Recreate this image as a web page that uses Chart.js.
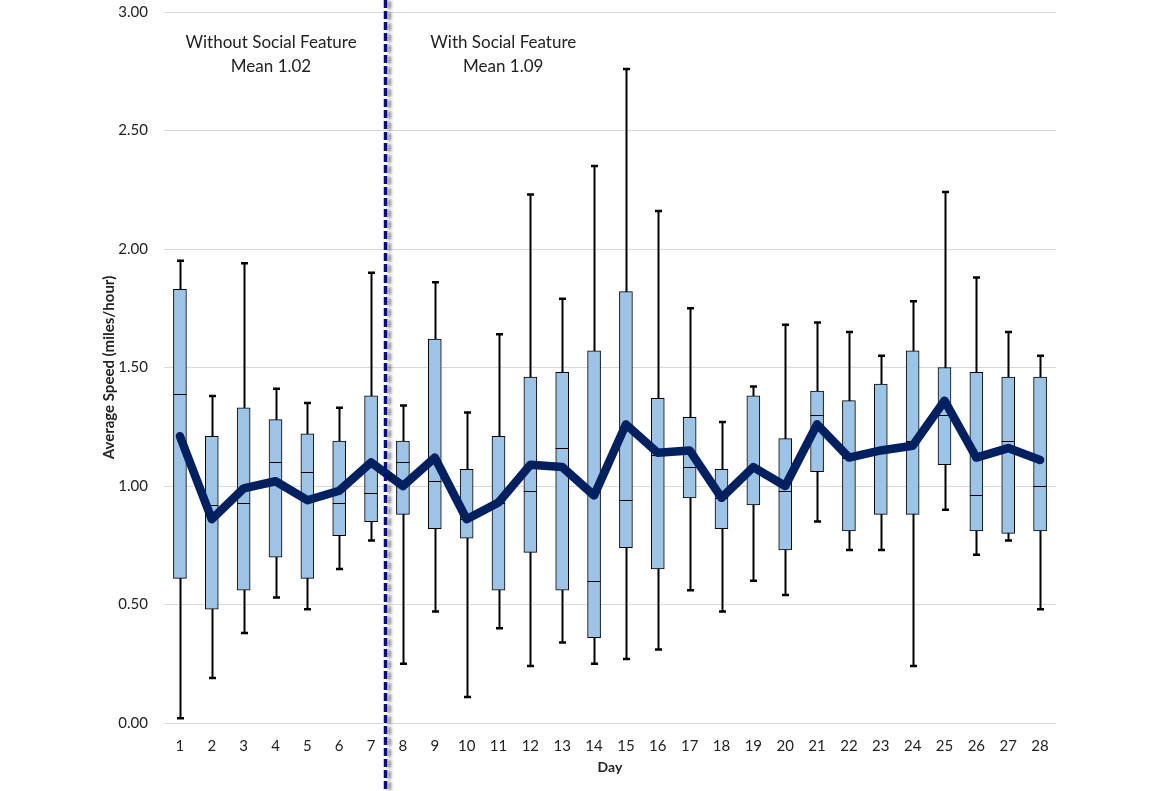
<!DOCTYPE html>
<html>
<head>
<meta charset="utf-8">
<script src="https://cdn.jsdelivr.net/npm/chart.js@4.4.1/dist/chart.umd.min.js"></script>
<style>
  body { margin: 0; background: #fff; }
  #wrap { width: 1150px; height: 791px; position: relative; }
</style>
</head>
<body>
<div id="wrap"><canvas id="chart"></canvas></div>
<script>
// days on the x axis
let days = ["1","2","3","4","5","6","7","8","9","10","11","12","13","14","15","16","17","18","19","20","21","22","23","24","25","26","27","28"];

// box plot values per day (miles/hour)
let minVals = [0.02, 0.19, 0.38, 0.53, 0.48, 0.65, 0.77, 0.25, 0.47, 0.11, 0.40, 0.24, 0.34, 0.25, 0.27, 0.31, 0.56, 0.47, 0.60, 0.54, 0.85, 0.73, 0.73, 0.24, 0.90, 0.71, 0.77, 0.48];
let q1Vals  = [0.61, 0.48, 0.56, 0.70, 0.61, 0.79, 0.85, 0.88, 0.82, 0.78, 0.56, 0.72, 0.56, 0.36, 0.74, 0.65, 0.95, 0.82, 0.92, 0.73, 1.06, 0.81, 0.88, 0.88, 1.09, 0.81, 0.80, 0.81];
let medVals = [1.39, 0.92, 0.93, 1.10, 1.06, 0.93, 0.97, 1.10, 1.02, 0.86, 0.93, 0.98, 1.16, 0.60, 0.94, 1.13, 1.08, 0.95, 1.07, 0.98, 1.30, 1.12, 1.14, 1.19, 1.30, 0.96, 1.19, 1.00];
let q3Vals  = [1.83, 1.21, 1.33, 1.28, 1.22, 1.19, 1.38, 1.19, 1.62, 1.07, 1.21, 1.46, 1.48, 1.57, 1.82, 1.37, 1.29, 1.07, 1.38, 1.20, 1.40, 1.36, 1.43, 1.57, 1.50, 1.48, 1.46, 1.46];
let maxVals = [1.95, 1.38, 1.94, 1.41, 1.35, 1.33, 1.90, 1.34, 1.86, 1.31, 1.64, 2.23, 1.79, 2.35, 2.76, 2.16, 1.75, 1.27, 1.42, 1.68, 1.69, 1.65, 1.55, 1.78, 2.24, 1.88, 1.65, 1.55];

// daily mean speed
let meanVals = [1.21, 0.86, 0.99, 1.02, 0.94, 0.98, 1.10, 1.00, 1.12, 0.86, 0.93, 1.09, 1.08, 0.96, 1.26, 1.14, 1.15, 0.95, 1.08, 1.00, 1.26, 1.12, 1.15, 1.17, 1.36, 1.12, 1.16, 1.11];

// y axis ticks
let yTicks = [0, 0.5, 1, 1.5, 2, 2.5, 3];

// notes above each period
let notes = [
  { lines: ["Without Social Feature", "Mean 1.02"], day: 2.86 },
  { lines: ["With Social Feature", "Mean 1.09"], day: 10.15 }
];

let FONT = "Lato, 'Open Sans', sans-serif";

let boxRanges = [];
for (let i = 0; i < days.length; i++) {
  boxRanges.push([q1Vals[i], q3Vals[i]]);
}

// whiskers behind boxes, medians on top of boxes
let boxPlugin = {
  id: "boxParts",
  beforeDatasetsDraw: function (chart) {
    let ctx = chart.ctx;
    let x = chart.scales.x;
    let y = chart.scales.y;
    ctx.save();
    ctx.strokeStyle = "#000";
    for (let i = 0; i < days.length; i++) {
      let px = Math.round(x.getPixelForValue(i)) + 0.5;
      ctx.lineWidth = 2;
      ctx.beginPath();
      ctx.moveTo(px, y.getPixelForValue(maxVals[i]));
      ctx.lineTo(px, y.getPixelForValue(minVals[i]));
      ctx.stroke();
      ctx.lineWidth = 2.5;
      ctx.beginPath();
      ctx.moveTo(px - 3.5, y.getPixelForValue(maxVals[i]));
      ctx.lineTo(px + 3.5, y.getPixelForValue(maxVals[i]));
      ctx.moveTo(px - 3.5, y.getPixelForValue(minVals[i]));
      ctx.lineTo(px + 3.5, y.getPixelForValue(minVals[i]));
      ctx.stroke();
    }
    ctx.restore();
  },
  afterDatasetDraw: function (chart, args) {
    if (args.index !== 0) return;
    let ctx = chart.ctx;
    let x = chart.scales.x;
    let y = chart.scales.y;
    ctx.save();
    ctx.strokeStyle = "#000";
    ctx.lineWidth = 1;
    for (let i = 0; i < days.length; i++) {
      let px = x.getPixelForValue(i);
      let py = Math.round(y.getPixelForValue(medVals[i])) + 0.5;
      ctx.beginPath();
      ctx.moveTo(px - 6.5, py);
      ctx.lineTo(px + 6.5, py);
      ctx.stroke();
    }
    ctx.restore();
  },
  afterDraw: function (chart) {
    let ctx = chart.ctx;
    let x = chart.scales.x;
    let y = chart.scales.y;

    // notes
    ctx.save();
    ctx.fillStyle = "#222";
    ctx.font = "17px " + FONT;
    ctx.textAlign = "center";
    ctx.textBaseline = "middle";
    for (let n = 0; n < notes.length; n++) {
      let nx = x.getPixelForValue(notes[n].day);
      ctx.fillText(notes[n].lines[0], nx, y.getPixelForValue(2.87));
      ctx.fillText(notes[n].lines[1], nx, y.getPixelForValue(2.77));
    }
    ctx.restore();

    // dashed divider between day 7 and day 8
    let dx = (x.getPixelForValue(6) + x.getPixelForValue(7)) / 2 - 1.5;
    ctx.save();
    ctx.strokeStyle = "#0b0b85";
    ctx.lineWidth = 3.5;
    ctx.setLineDash([8, 3]);
    ctx.shadowColor = "rgba(0,0,0,0.45)";
    ctx.shadowOffsetX = 4;
    ctx.shadowOffsetY = 1;
    ctx.shadowBlur = 3;
    ctx.beginPath();
    ctx.moveTo(dx, 0);
    ctx.lineTo(dx, chart.height);
    ctx.stroke();
    ctx.restore();
  }
};

new Chart(document.getElementById("chart"), {
  data: {
    labels: days,
    datasets: [
      {
        type: "bar",
        label: "Box",
        data: boxRanges,
        backgroundColor: "#9dc3e6",
        borderColor: "#000",
        borderWidth: 1,
        borderSkipped: false,
        barThickness: 13,
        order: 2
      },
      {
        type: "line",
        label: "Mean",
        data: meanVals,
        borderColor: "#002060",
        borderWidth: 8.5,
        pointRadius: 0,
        borderJoinStyle: "round",
        borderCapStyle: "round",
        tension: 0,
        order: 1
      }
    ]
  },
  options: {
    responsive: true,
    maintainAspectRatio: false,
    animation: false,
    layout: { padding: { top: 0, right: 94, left: 0, bottom: 0 } },
    plugins: {
      legend: { display: false },
      tooltip: { enabled: false }
    },
    scales: {
      x: {
        grid: { display: false },
        border: { display: false },
        ticks: { color: "#222", font: { family: FONT, size: 15 }, padding: 6, maxRotation: 0 },
        title: { display: true, text: "Day", color: "#222", font: { family: FONT, size: 14, weight: "bold" }, padding: { top: 0, bottom: 15 } },
        afterFit: function (s) { s.height = 68; }
      },
      y: {
        min: 0,
        max: 3,
        afterBuildTicks: function (s) { s.ticks = yTicks.map(function (v) { return { value: v }; }); },
        grid: { color: "#d9d9d9", drawTicks: false },
        border: { display: false },
        ticks: {
          color: "#222",
          font: { family: FONT, size: 15 },
          padding: 16,
          callback: function (v) { return Number(v).toFixed(2); }
        },
        title: { display: true, text: "Average Speed (miles/hour)", color: "#222", font: { family: FONT, size: 15, weight: "bold" }, padding: { top: 100, bottom: 0 } },
        afterFit: function (s) {
          s.width = 164;
          s.paddingTop = 12;
          s.paddingBottom = 0;
        }
      }
    }
  },
  plugins: [boxPlugin]
});
</script>
</body>
</html>
